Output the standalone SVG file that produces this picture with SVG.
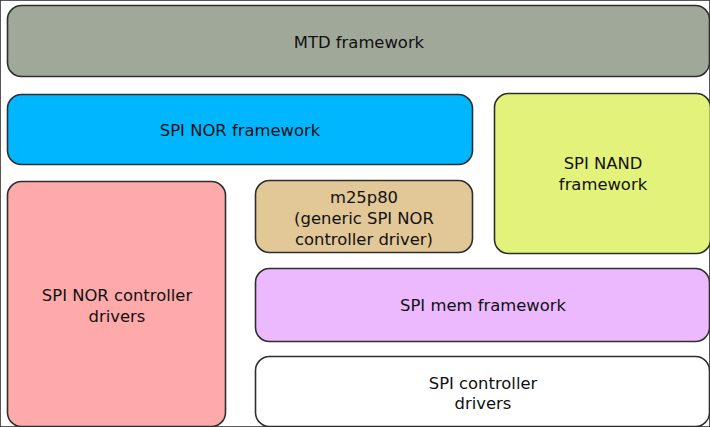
<svg xmlns="http://www.w3.org/2000/svg" width="710" height="427" viewBox="0 0 710 427">
  <style>
    rect { stroke: #2e2e2e; stroke-width: 1.6; }
    text { font-family: "DejaVu Sans", "Liberation Sans", sans-serif; font-size: 16.4px; fill: #111; text-anchor: middle; }
  </style>
  <rect x="0" y="0" width="710" height="427" fill="#ffffff" stroke="none"/>
  <g id="mtd">
    <rect x="7.5" y="5.5" width="702" height="71" rx="14" fill="#a0a89a"/>
    <text x="359" y="48">MTD framework</text>
  </g>
  <g id="spi-nor">
    <rect x="7.5" y="94.5" width="465" height="70" rx="14" fill="#00b7ff"/>
    <text x="240" y="136">SPI NOR framework</text>
  </g>
  <g id="spi-nand">
    <rect x="494.5" y="93.5" width="216" height="160" rx="14" fill="#e3f27a"/>
    <text x="603" y="169">SPI NAND</text>
    <text x="603" y="190">framework</text>
  </g>
  <g id="nor-ctrl">
    <rect x="7.5" y="181.5" width="218" height="245" rx="14" fill="#ffaaaa"/>
    <text x="117" y="301">SPI NOR controller</text>
    <text x="117" y="322">drivers</text>
  </g>
  <g id="m25p80">
    <rect x="255.5" y="180.5" width="217" height="72" rx="14" fill="#e2c797"/>
    <text x="364" y="203">m25p80</text>
    <text x="364" y="224">(generic SPI NOR</text>
    <text x="364" y="245">controller driver)</text>
  </g>
  <g id="spi-mem">
    <rect x="255.5" y="268.5" width="454" height="73" rx="14" fill="#ecb9ff"/>
    <text x="483" y="311">SPI mem framework</text>
  </g>
  <g id="spi-ctrl">
    <rect x="255.5" y="356.5" width="454" height="70" rx="14" fill="#ffffff"/>
    <text x="483" y="389">SPI controller</text>
    <text x="483" y="409">drivers</text>
  </g>
  <g id="connectors"></g>
</svg>
